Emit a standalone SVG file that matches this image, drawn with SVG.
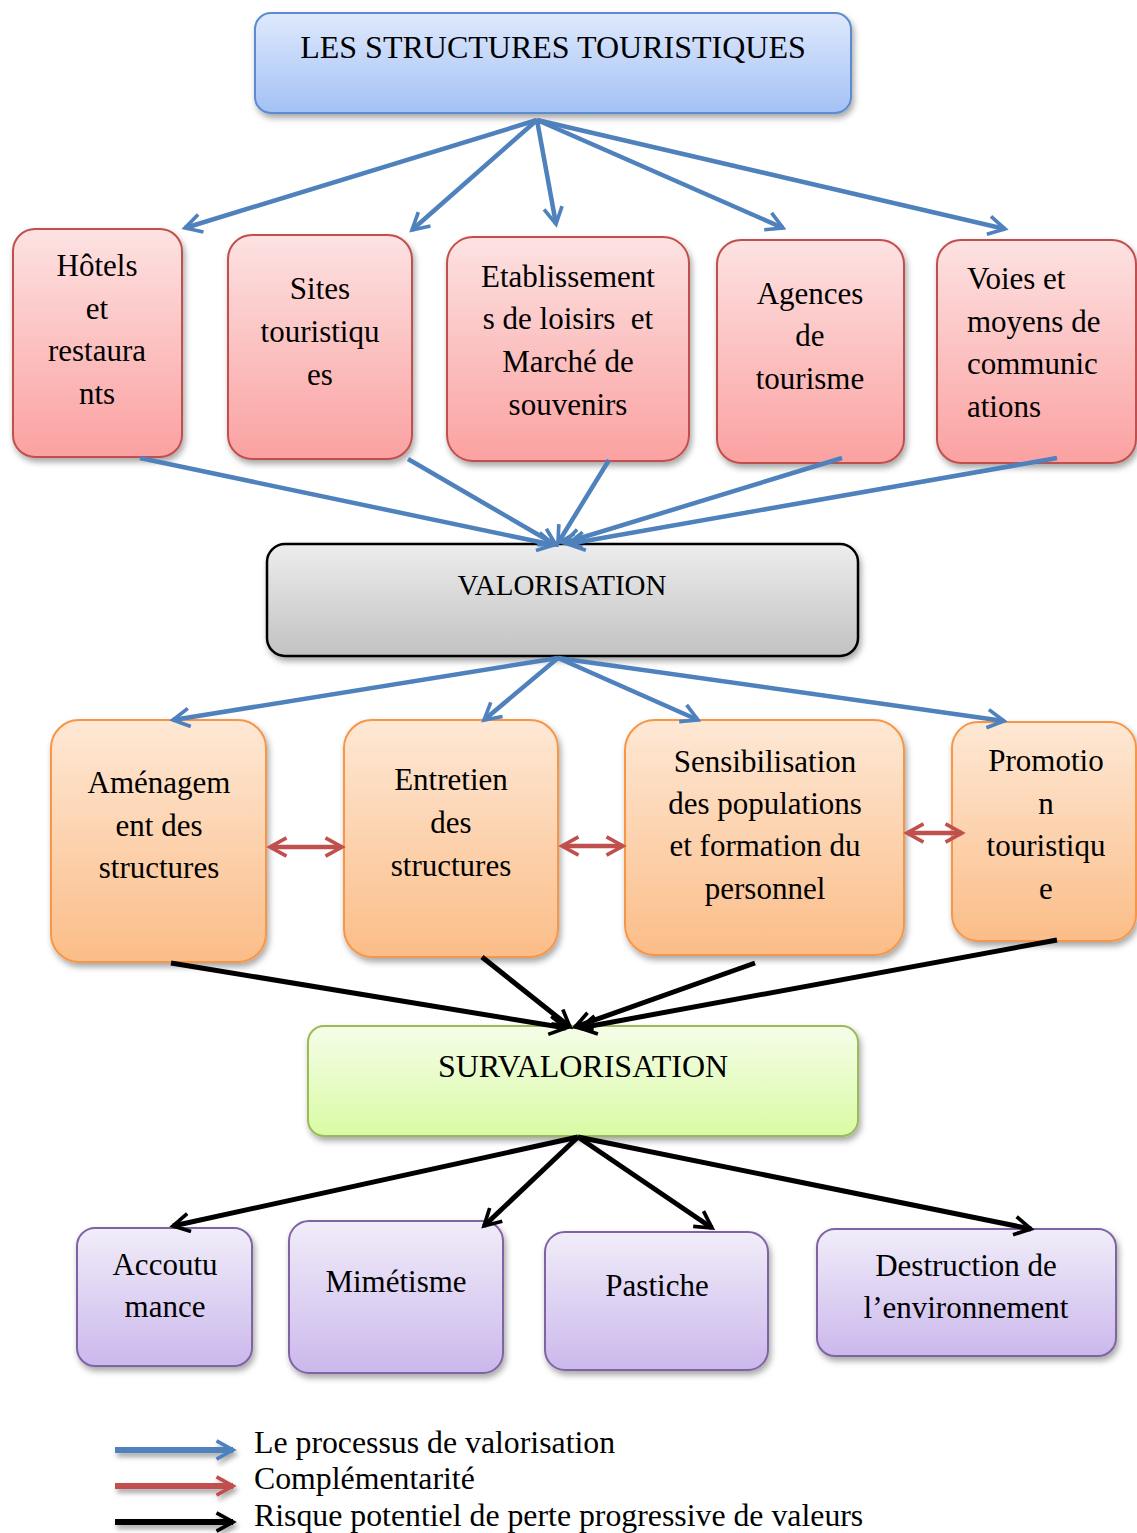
<svg xmlns="http://www.w3.org/2000/svg" width="1137" height="1533" viewBox="0 0 1137 1533">
<style>
.t{font-family:"Liberation Serif","Times New Roman",serif;font-size:31px;fill:#000;text-anchor:middle;white-space:pre}
.tl{text-anchor:start}
.blue{stroke:#4f81bd;stroke-width:4.5;fill:none;marker-end:url(#mb)}
.red{stroke:#c0504d;stroke-width:4.5;fill:none;marker-end:url(#mr);marker-start:url(#mr)}
.blk{stroke:#000;stroke-width:5;fill:none;marker-end:url(#mk)}
.lg{stroke-width:6}
.nb{fill:url(#gb);stroke:#5b8bd0;stroke-width:2;filter:url(#sh)}
.nr{fill:url(#gr);stroke:#c0504d;stroke-width:2;filter:url(#sh)}
.ng{fill:url(#gg);stroke:#000;stroke-width:2.5;filter:url(#sh)}
.no{fill:url(#go);stroke:#f79646;stroke-width:2;filter:url(#sh)}
.nv{fill:url(#gv);stroke:#9bbb59;stroke-width:2;filter:url(#sh)}
.np{fill:url(#gp);stroke:#8064a2;stroke-width:2;filter:url(#sh)}
</style>
<defs>
<filter id="sh" x="-10%" y="-10%" width="130%" height="130%"><feDropShadow dx="2" dy="4" stdDeviation="3" flood-color="#000" flood-opacity="0.35"/></filter>
<filter id="shl" filterUnits="userSpaceOnUse" x="90" y="1420" width="180" height="125"><feDropShadow dx="2" dy="4" stdDeviation="2.5" flood-color="#000" flood-opacity="0.35"/></filter>
<linearGradient id="gb" x1="0" y1="0" x2="0" y2="1"><stop offset="0" stop-color="#dfe9fd"/><stop offset="1" stop-color="#a3c1f5"/></linearGradient>
<linearGradient id="gr" x1="0" y1="0" x2="0" y2="1"><stop offset="0" stop-color="#fde2e2"/><stop offset="1" stop-color="#fba1a1"/></linearGradient>
<linearGradient id="gg" x1="0" y1="0" x2="0" y2="1"><stop offset="0" stop-color="#ededed"/><stop offset="1" stop-color="#c2c2c2"/></linearGradient>
<linearGradient id="go" x1="0" y1="0" x2="0" y2="1"><stop offset="0" stop-color="#fee8d5"/><stop offset="1" stop-color="#fbbd88"/></linearGradient>
<linearGradient id="gv" x1="0" y1="0" x2="0" y2="1"><stop offset="0" stop-color="#f5fde9"/><stop offset="1" stop-color="#d9fba4"/></linearGradient>
<linearGradient id="gp" x1="0" y1="0" x2="0" y2="1"><stop offset="0" stop-color="#f1edf9"/><stop offset="1" stop-color="#cbb8ec"/></linearGradient>
<marker id="mb" viewBox="0 0 12 12" refX="10" refY="6" markerWidth="22" markerHeight="22" markerUnits="userSpaceOnUse" orient="auto-start-reverse"><path d="M1,1 L10,6 L1,11" fill="none" stroke="#4f81bd" stroke-width="2"/></marker>
<marker id="mr" viewBox="0 0 12 12" refX="10" refY="6" markerWidth="22" markerHeight="22" markerUnits="userSpaceOnUse" orient="auto-start-reverse"><path d="M1,1 L10,6 L1,11" fill="none" stroke="#c0504d" stroke-width="2"/></marker>
<marker id="mk" viewBox="0 0 12 12" refX="10" refY="6" markerWidth="22" markerHeight="22" markerUnits="userSpaceOnUse" orient="auto-start-reverse"><path d="M1,1 L10,6 L1,11" fill="none" stroke="#000" stroke-width="2"/></marker>
</defs>
<rect width="1137" height="1533" fill="#fff"/>

<g id="n-top"><rect class="nb" x="255" y="13" width="596" height="100" rx="16"/><text class="t" x="553" y="58" style="font-size:32px">LES STRUCTURES TOURISTIQUES</text></g>

<g id="n-hotels"><rect class="nr" x="13" y="229" width="169" height="228" rx="22"/>
<text class="t" x="97" y="276">Hôtels</text><text class="t" x="97" y="319">et</text><text class="t" x="97" y="361">restaura</text><text class="t" x="97" y="404">nts</text></g>
<g id="n-sites"><rect class="nr" x="228" y="235" width="184" height="224" rx="24"/>
<text class="t" x="320" y="299">Sites</text><text class="t" x="320" y="342">touristiqu</text><text class="t" x="320" y="385">es</text></g>
<g id="n-etab"><rect class="nr" x="447" y="237" width="242" height="224" rx="26"/>
<text class="t" x="568" y="287">Etablissement</text><text class="t" x="568" y="329" xml:space="preserve">s de loisirs  et</text><text class="t" x="568" y="372">Marché de</text><text class="t" x="568" y="415">souvenirs</text></g>
<g id="n-agences"><rect class="nr" x="717" y="240" width="187" height="223" rx="24"/>
<text class="t" x="810" y="304">Agences</text><text class="t" x="810" y="346">de</text><text class="t" x="810" y="389">tourisme</text></g>
<g id="n-voies"><rect class="nr" x="937" y="240" width="199" height="223" rx="24"/>
<text class="t tl" x="967" y="289">Voies et</text><text class="t tl" x="967" y="332">moyens de</text><text class="t tl" x="967" y="374">communic</text><text class="t tl" x="967" y="417">ations</text></g>

<g id="n-valorisation"><rect class="ng" x="267" y="544" width="591" height="112" rx="18"/><text class="t" x="562" y="595" style="font-size:29px">VALORISATION</text></g>

<g id="n-amenagement"><rect class="no" x="51" y="720" width="215" height="242" rx="28"/>
<text class="t" x="159" y="793">Aménagem</text><text class="t" x="159" y="836">ent des</text><text class="t" x="159" y="878">structures</text></g>
<g id="n-entretien"><rect class="no" x="344" y="720" width="214" height="237" rx="28"/>
<text class="t" x="451" y="790">Entretien</text><text class="t" x="451" y="833">des</text><text class="t" x="451" y="876">structures</text></g>
<g id="n-sensibilisation"><rect class="no" x="625" y="720" width="279" height="235" rx="30"/>
<text class="t" x="765" y="772">Sensibilisation</text><text class="t" x="765" y="814">des populations</text><text class="t" x="765" y="856">et formation du</text><text class="t" x="765" y="899">personnel</text></g>
<g id="n-promotion"><rect class="no" x="952" y="722" width="184" height="219" rx="26"/>
<text class="t" x="1046" y="771">Promotio</text><text class="t" x="1046" y="814">n</text><text class="t" x="1046" y="856">touristiqu</text><text class="t" x="1046" y="899">e</text></g>

<g id="n-survalorisation"><rect class="nv" x="308" y="1026" width="550" height="110" rx="16"/><text class="t" x="583" y="1077" style="font-size:32px">SURVALORISATION</text></g>

<g id="n-accoutumance"><rect class="np" x="77" y="1228" width="175" height="138" rx="18"/>
<text class="t" x="165" y="1275">Accoutu</text><text class="t" x="165" y="1317">mance</text></g>
<g id="n-mimetisme"><rect class="np" x="289" y="1221" width="214" height="152" rx="20"/>
<text class="t" x="396" y="1292">Mimétisme</text></g>
<g id="n-pastiche"><rect class="np" x="545" y="1232" width="223" height="138" rx="20"/>
<text class="t" x="657" y="1296">Pastiche</text></g>
<g id="n-destruction"><rect class="np" x="817" y="1229" width="299" height="127" rx="18"/>
<text class="t" x="966" y="1276">Destruction de</text><text class="t" x="966" y="1318">l’environnement</text></g>

<g id="connectors">
<line class="blue" x1="537" y1="120" x2="185" y2="228"/>
<line class="blue" x1="537" y1="120" x2="412" y2="230"/>
<line class="blue" x1="537" y1="120" x2="556" y2="224"/>
<line class="blue" x1="537" y1="120" x2="783" y2="228"/>
<line class="blue" x1="537" y1="120" x2="1005" y2="229"/>
<line class="blue" x1="140" y1="458" x2="554" y2="545"/>
<line class="blue" x1="408" y1="459" x2="556" y2="545"/>
<line class="blue" x1="609" y1="460" x2="558" y2="543"/>
<line class="blue" x1="842" y1="458" x2="564" y2="543"/>
<line class="blue" x1="1057" y1="458" x2="568" y2="544"/>
<line class="blue" x1="558" y1="658" x2="173" y2="720"/>
<line class="blue" x1="558" y1="658" x2="484" y2="720"/>
<line class="blue" x1="558" y1="658" x2="698" y2="720"/>
<line class="blue" x1="558" y1="658" x2="1004" y2="721"/>
<line class="red" x1="270" y1="847" x2="342" y2="847"/>
<line class="red" x1="562" y1="846" x2="623" y2="846"/>
<line class="red" x1="907" y1="833" x2="962" y2="833"/>
<line class="blk" x1="171" y1="963" x2="566" y2="1028"/>
<line class="blk" x1="482" y1="957" x2="570" y2="1027"/>
<line class="blk" x1="755" y1="963" x2="575" y2="1027"/>
<line class="blk" x1="1057" y1="940" x2="580" y2="1028"/>
<line class="blk" x1="578" y1="1137" x2="173" y2="1226"/>
<line class="blk" x1="578" y1="1137" x2="484" y2="1226"/>
<line class="blk" x1="578" y1="1137" x2="712" y2="1228"/>
<line class="blk" x1="578" y1="1137" x2="1031" y2="1229"/>
</g>

<g id="legend">
<g filter="url(#shl)">
<line class="blue lg" x1="115" y1="1450" x2="233" y2="1450"/>
<line class="lg" stroke="#c0504d" marker-end="url(#mr)" x1="115" y1="1486" x2="233" y2="1486"/>
<line class="blk lg" x1="115" y1="1522" x2="233" y2="1522"/>
</g>
<text class="t tl" x="254" y="1453" style="font-size:31.8px">Le processus de valorisation</text>
<text class="t tl" x="254" y="1489" style="font-size:31.8px">Complémentarité</text>
<text class="t tl" x="254" y="1526" style="font-size:31.8px">Risque potentiel de perte progressive de valeurs</text>
</g>
</svg>
